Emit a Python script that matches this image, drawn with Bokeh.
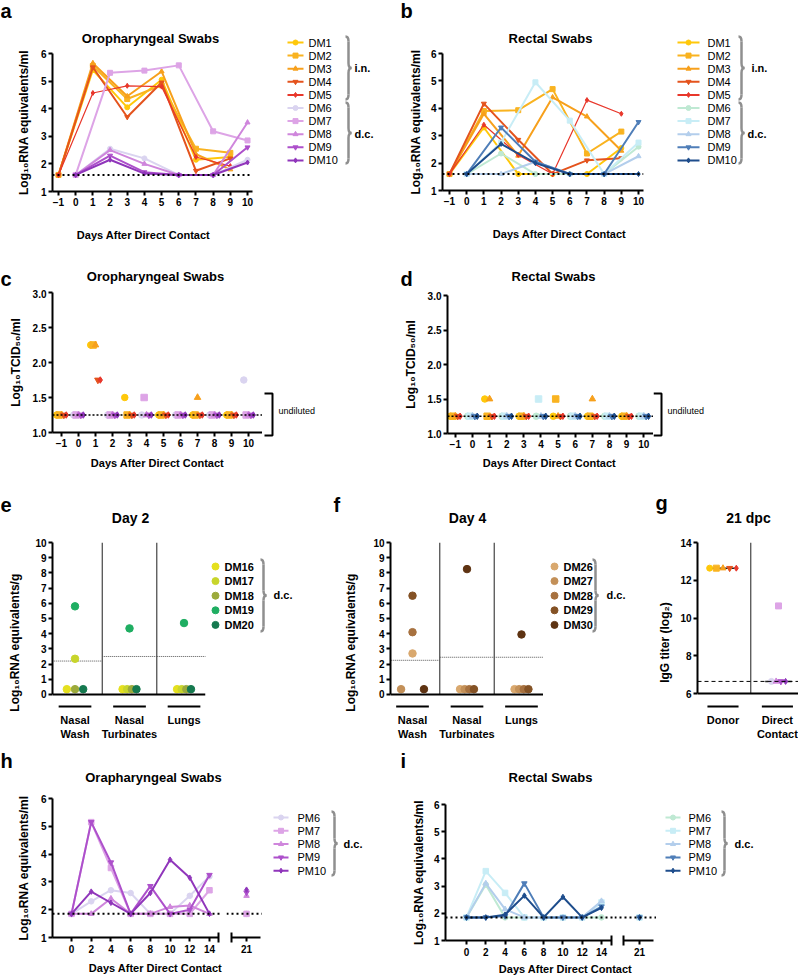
import numpy as np
from bokeh.plotting import figure
from bokeh.layouts import row, column
from bokeh.models import Range1d, FixedTicker, Span, NumeralTickFormatter
from bokeh.embed import file_html
from bokeh.resources import INLINE
from bokeh.core.properties import value

FONT = "Liberation Sans"

# ---------------- data ----------------
days_in = [-1, 1, 3, 5, 7, 9]
days_dc = [0, 2, 4, 6, 8, 10]
names_in = ["DM1", "DM2", "DM3", "DM4", "DM5"]
names_dc = ["DM6", "DM7", "DM8", "DM9", "DM10"]

# a: oropharyngeal RNA (log10)
oro_rna_in = [
    [1.6, 5.4, 4.05, 5.05, 2.15, 2.25],
    [1.6, 5.55, 4.35, 4.85, 2.55, 2.4],
    [1.6, 5.65, 4.45, 5.35, 2.35, 1.8],
    [1.6, 5.5, 3.7, 4.95, 1.75, 2.2],
    [1.6, 4.57, 4.83, 4.8, 2.25, 1.92],
]
oro_rna_dc = [
    [1.6, 2.55, 2.2, 1.6, 1.6, 2.15],
    [1.6, 5.3, 5.38, 5.57, 3.18, 2.85],
    [1.6, 2.5, 2.0, 1.6, 1.6, 3.5],
    [1.6, 2.3, 1.7, 1.6, 1.6, 2.6],
    [1.6, 2.15, 1.65, 1.6, 1.6, 2.05],
]
# b: rectal RNA
rec_rna_in = [
    [1.6, 3.3, 1.6, 1.6, 1.6, 2.55],
    [1.6, 3.9, 3.93, 4.7, 2.35, 3.15],
    [1.6, 3.8, 2.27, 4.4, 3.7, 2.45],
    [1.6, 4.17, 2.85, 1.6, 2.1, 2.18],
    [1.6, 3.4, 2.3, 1.6, 4.3, 3.8],
]
rec_rna_dc = [
    [1.6, 2.35, 1.6, 1.6, 1.6, 2.6],
    [1.6, 2.75, 4.95, 3.55, 1.6, 2.75],
    [1.6, 1.6, 2.05, 1.6, 1.6, 2.25],
    [1.6, 3.3, 2.05, 1.6, 1.6, 3.5],
    [1.6, 2.7, 2.0, 1.6, 1.6, 1.6],
]
rna_lod = 1.6

# c/d: infectious titer (log10 TCID50/ml)
oro_tcid_in = [
    [1.25, 2.25, 1.5, 1.25, 1.25, 1.25],
    [1.25, 2.25, 1.25, 1.25, 1.25, 1.25],
    [1.25, 2.25, 1.25, 1.25, 1.5, 1.25],
    [1.25, 1.75, 1.25, 1.25, 1.25, 1.25],
    [1.25, 1.75, 1.25, 1.25, 1.25, 1.25],
]
oro_tcid_dc = [
    [1.25, 1.25, 1.25, 1.25, 1.25, 1.75],
    [1.25, 1.25, 1.5, 1.25, 1.25, 1.25],
    [1.25, 1.25, 1.25, 1.25, 1.25, 1.25],
    [1.25, 1.25, 1.25, 1.25, 1.25, 1.25],
    [1.25, 1.25, 1.25, 1.25, 1.25, 1.25],
]
rec_tcid_in = [
    [1.25, 1.5, 1.25, 1.25, 1.25, 1.25],
    [1.25, 1.25, 1.25, 1.5, 1.25, 1.25],
    [1.25, 1.5, 1.25, 1.25, 1.5, 1.25],
    [1.25, 1.25, 1.25, 1.25, 1.25, 1.25],
    [1.25, 1.25, 1.25, 1.25, 1.25, 1.25],
]
rec_tcid_dc = [
    [1.25, 1.25, 1.25, 1.25, 1.25, 1.25],
    [1.25, 1.25, 1.5, 1.25, 1.25, 1.25],
    [1.25, 1.25, 1.25, 1.25, 1.25, 1.25],
    [1.25, 1.25, 1.25, 1.25, 1.25, 1.25],
    [1.25, 1.25, 1.25, 1.25, 1.25, 1.25],
]
tcid_lod = 1.25

# e/f: tissues
tissues = ["Nasal\nWash", "Nasal\nTurbinates", "Lungs"]
names_e = ["DM16", "DM17", "DM18", "DM19", "DM20"]
day2_tissue = [
    [0.35, 0.35, 0.35],
    [2.35, 0.35, 0.35],
    [0.35, 0.35, 0.35],
    [5.8, 4.35, 4.7],
    [0.35, 0.35, 0.35],
]
day2_lod = [2.2, 2.5, 2.5]
names_f = ["DM26", "DM27", "DM28", "DM29", "DM30"]
day4_tissue = [
    [2.7, 0.35, 0.35],
    [0.35, 0.35, 0.35],
    [4.1, 0.35, 0.35],
    [6.5, 0.35, 0.35],
    [0.35, 8.25, 3.95],
]
day4_lod = [2.25, 2.45, 2.45]

# g: IgG titers (log2) at 21 dpc
groups_g = ["Donor", "Direct\nContact"]
igg_donor = [12.64, 12.64, 12.64, 12.64, 12.64]
igg_contact = [6.64, 10.64, 6.64, 6.64, 6.64]
igg_lod = 6.64

# h/i: second experiment
days_pm = [0, 2, 4, 6, 8, 10, 12, 14, 21]
names_pm = ["PM6", "PM7", "PM8", "PM9", "PM10"]
pm_oro = [
    [1.85, 2.3, 2.7, 2.6, 1.85, 1.85, 2.5, 3.2, 1.85],
    [1.85, 5.15, 3.5, 1.85, 1.85, 1.85, 1.85, 2.7, 1.85],
    [1.85, 1.85, 2.4, 1.85, 1.85, 2.1, 2.15, 1.85, 2.5],
    [1.85, 5.15, 3.7, 1.85, 2.85, 1.85, 2.0, 3.25, 2.62],
    [1.85, 2.65, 2.25, 1.85, 2.6, 3.8, 3.15, 1.85, 2.72],
]
pm_rec = [
    [1.85, 3.05, 1.85, 1.85, 1.85, 1.85, 1.85, 1.85, 1.85],
    [1.85, 3.55, 2.75, 1.85, 1.85, 1.85, 1.85, 2.4, 1.85],
    [1.85, 3.1, 2.15, 1.85, 1.85, 1.85, 1.85, 2.45, 1.85],
    [1.85, 1.85, 1.9, 3.1, 1.85, 1.85, 1.85, 2.25, 1.85],
    [1.85, 1.85, 1.95, 2.65, 1.85, 2.6, 1.85, 2.2, 1.85],
]
pm_lod = 1.85

# ---------------- style ----------------
IN_COLS = ["#FFC80A", "#F9B320", "#F7A01C", "#E4531D", "#E8372B"]
PURPLES = ["#DAD4F0", "#DDA4E6", "#CF86DC", "#AD50CB", "#9036BB"]
BLUES = ["#BFE9D3", "#C8EDF6", "#B3CEEC", "#4F7EB8", "#1E4D8C"]
MARKERS = ["circle", "square", "triangle", "inverted_triangle", "diamond"]
E_COLS = ["#E5E01E", "#C8D52B", "#9CAA3B", "#1FAE62", "#15794F"]
F_COLS = ["#D9A86E", "#C39058", "#A7713F", "#845225", "#5E3312"]


def style_axis(ax, size="10px"):
    ax.axis_line_width = 2
    ax.axis_line_color = "black"
    ax.major_tick_line_width = 2
    ax.major_tick_line_color = "black"
    ax.major_tick_out = 4
    ax.major_tick_in = 0
    ax.minor_tick_line_color = None
    ax.major_label_text_font = FONT
    ax.major_label_text_font_size = size
    ax.major_label_text_font_style = "bold"
    ax.major_label_text_color = "black"
    ax.major_label_standoff = 2
    ax.axis_label_text_font = FONT
    ax.axis_label_text_font_size = "12px"
    ax.axis_label_text_font_style = "bold"
    ax.axis_label_text_color = "black"


def panel(x0, x1, y0, y1, fl, fr, ft, fb, xr, yr, yaxis=True):
    p = figure(width=x1 - x0, height=y1 - y0,
               x_range=Range1d(*xr), y_range=Range1d(*yr),
               toolbar_location=None, output_backend="svg", frame_align=False,
               min_border_left=fl - x0, min_border_right=x1 - fr,
               min_border_top=ft - y0, min_border_bottom=y1 - fb,
               y_axis_location="left" if yaxis else None)
    p.outline_line_color = None
    p.grid.visible = False
    for ax in p.axis:
        style_axis(ax)
    return p


def blank(x0, x1, y0, y1):
    p = figure(width=x1 - x0, height=y1 - y0, x_range=Range1d(x0, x1), y_range=Range1d(y1, y0),
               toolbar_location=None, output_backend="svg", min_border=0, frame_align=False,
               x_axis_location=None, y_axis_location=None)
    p.outline_line_color = None
    p.grid.visible = False
    return p


def txt(p, x, y, t, size="11px", bold=True, align="center", baseline="middle"):
    p.text([x], [y], text=[t], text_font=value(FONT), text_font_size=size,
           text_font_style="bold" if bold else "normal", text_align=align,
           text_baseline=baseline, text_color="black")


def strip(x0, x1, y0, y1, items):
    p = blank(x0, x1, y0, y1)
    for it in items:
        txt(p, *it)
    return p


def letter(x, y, t):
    return (x, y, t, "20px", True, "left", "middle")


def brace(p, x, y0, y1, w=6, color="#8f8f8f"):
    ym = (y0 + y1) / 2.0
    r = 5
    xm = x + w / 2.0
    p.quadratic(x0=[x, xm, x + w, xm], y0=[y0, ym - r, ym, y1 - r],
                x1=[xm, x + w, xm, x], y1=[y0 + r, ym, ym + r, y1],
                cx=[xm, xm, xm, xm], cy=[y0, ym, ym, y1],
                line_color=color, line_width=2.5)
    p.segment(x0=[xm, xm], y0=[y0 + r, ym + r], x1=[xm, xm], y1=[ym - r, y1 - r],
              line_color=color, line_width=2.5)


def line_legend(p, names, cols, lx0, lx1, tx, y0, dy, msize=5, lw=2, size="11px"):
    for k, (n, c) in enumerate(zip(names, cols)):
        y = y0 + k * dy
        p.segment(x0=[lx0], y0=[y], x1=[lx1], y1=[y], line_color=c, line_width=lw)
        p.scatter([(lx0 + lx1) / 2.0], [y], marker=MARKERS[k % 5], size=msize,
                  fill_color=c, line_color=c)
        txt(p, tx, y, n, size=size, bold=False, align="left")


def dot_legend(p, names, cols, dx, tx, y0, dy):
    for k, (n, c) in enumerate(zip(names, cols)):
        y = y0 + k * dy
        p.scatter([dx], [y], marker="circle", size=7, fill_color=c, line_color=c)
        txt(p, tx, y, n, size="11px", bold=True, align="left")


def rna_panel(p, data_in, data_dc, dc_cols, standoff):
    p.xaxis.ticker = FixedTicker(ticks=list(range(-1, 11)))
    p.yaxis.ticker = FixedTicker(ticks=[1, 2, 3, 4, 5, 6])
    p.yaxis.axis_label = "Log₁₀RNA equivalents/ml"
    p.yaxis.axis_label_standoff = standoff
    for k, vals in enumerate(data_in):
        p.line(days_in, vals, line_color=IN_COLS[k], line_width=1.2 if k == 4 else 2)
        p.scatter(days_in, vals, marker=MARKERS[k], size=5, fill_color=IN_COLS[k],
                  line_color=IN_COLS[k])
    for k, vals in enumerate(data_dc):
        p.line(days_dc, vals, line_color=dc_cols[k], line_width=2)
        p.scatter(days_dc, vals, marker=MARKERS[k], size=5, fill_color=dc_cols[k],
                  line_color=dc_cols[k])
    p.add_layout(Span(location=rna_lod, dimension="width", line_color="black",
                      line_dash="2 3", line_width=2))


def tcid_panel(p, data_in, data_dc, dc_cols, standoff):
    p.xaxis.ticker = FixedTicker(ticks=list(range(-1, 11)))
    p.yaxis.ticker = FixedTicker(ticks=[1.0, 1.5, 2.0, 2.5, 3.0])
    p.yaxis.formatter = NumeralTickFormatter(format="0.0")
    p.yaxis.axis_label = "Log₁₀TCID₅₀/ml"
    p.yaxis.axis_label_standoff = standoff
    p.add_layout(Span(location=tcid_lod, dimension="width", line_color="black",
                      line_dash="2 2", line_width=1.5))
    for grp, days, cols in [(data_in, days_in, IN_COLS), (data_dc, days_dc, dc_cols)]:
        for k, vals in enumerate(grp):
            xs = [d + (k - 2) * 0.14 for d in days]
            p.scatter(xs, vals, marker=MARKERS[k], size=6.5, fill_color=cols[k],
                      line_color=cols[k])


def undiluted(x0, x1, y0, y1, bx):
    p = blank(x0, x1, y0, y1)
    p.line([bx - 8, bx, bx, bx - 8], [393, 393, 435, 435], line_color="black", line_width=2)
    txt(p, bx + 6, 410, "undiluted", size="9px", bold=False, align="left")
    return p


STEP = {1: 0.0, 2: 0.42, 3: 0.15, 4: 0.085, 5: 0.12}


def spread(values):
    """values[animal][category] -> horizontal offsets for equal values in a category"""
    n_an = len(values)
    n_cat = len(values[0])
    offs = [[0.0] * n_cat for _ in range(n_an)]
    for c in range(n_cat):
        groups = {}
        for a in range(n_an):
            groups.setdefault(round(values[a][c], 2), []).append(a)
        for v, members in groups.items():
            n = len(members)
            for j, a in enumerate(members):
                offs[a][c] = (j - (n - 1) / 2.0) * STEP.get(n, 0.085)
    return offs


def hide_xaxis_ticks(p, loc):
    ax = p.xaxis[0]
    ax.fixed_location = loc
    ax.ticker = FixedTicker(ticks=[])
    ax.major_tick_out = 0
    ax.major_label_text_font_size = "0px"


def tissue_panel(p, data, lods, cols, standoff):
    p.yaxis.ticker = FixedTicker(ticks=list(range(0, 11)))
    p.yaxis.bounds = (0, 10)
    p.yaxis.axis_label = "Log₁₀RNA equivalents/g"
    p.yaxis.axis_label_standoff = standoff
    hide_xaxis_ticks(p, 0)
    n = len(tissues)
    cats = list(range(n))
    p.segment(x0=[c + 0.5 for c in cats[:-1]], y0=[0] * (n - 1),
              x1=[c + 0.5 for c in cats[:-1]], y1=[10] * (n - 1),
              line_color="#444444", line_width=1.2)
    p.segment(x0=[c - 0.5 for c in cats], y0=lods, x1=[c + 0.5 for c in cats], y1=lods,
              line_color="#555555", line_dash="1 1", line_width=1)
    offs = spread(data)
    for k, vals in enumerate(data):
        xs = [c + offs[k][c] for c in cats]
        p.scatter(xs, vals, marker="circle", size=7.5, fill_color=cols[k], line_color=cols[k])
    p.segment(x0=[c - 0.3 for c in cats], y0=[-0.79] * n, x1=[c + 0.3 for c in cats],
              y1=[-0.79] * n, line_color="black", line_width=2)
    p.text(cats, [-1.3] * n, text=tissues, text_font=value(FONT), text_font_size="11px",
           text_font_style="bold", text_align="center", text_baseline="top",
           text_line_height=1.15, text_color="black")


def pm_panels(p, q, data, cols, end_cap, start_cap, axis_end, standoff):
    p.yaxis.ticker = FixedTicker(ticks=[1, 2, 3, 4, 5, 6])
    p.yaxis.axis_label = "Log₁₀RNA equivalents/ml"
    p.yaxis.axis_label_standoff = standoff
    ax = p.xaxis[0]
    ax.ticker = FixedTicker(ticks=[d for d in days_pm if d <= 14], minor_ticks=[end_cap])
    ax.bounds = (p.x_range.start, end_cap)
    ax2 = q.xaxis[0]
    ax2.ticker = FixedTicker(ticks=[d for d in days_pm if d > 14], minor_ticks=[start_cap])
    ax2.bounds = (start_cap, axis_end)
    for a in (ax, ax2):
        a.minor_tick_line_color = "black"
        a.minor_tick_line_width = 2
        a.minor_tick_in = 5
        a.minor_tick_out = 5
    for fig in (p, q):
        fig.add_layout(Span(location=pm_lod, dimension="width", line_color="black",
                            line_dash="2 3", line_width=2))
    for k, vals in enumerate(data):
        main_d = [d for d in days_pm if d <= 14]
        main_v = [v for d, v in zip(days_pm, vals) if d <= 14]
        late_d = [d for d in days_pm if d > 14]
        late_v = [v for d, v in zip(days_pm, vals) if d > 14]
        p.line(main_d, main_v, line_color=cols[k], line_width=2)
        p.scatter(main_d, main_v, marker=MARKERS[k], size=5.5, fill_color=cols[k],
                  line_color=cols[k])
        q.scatter(late_d, late_v, marker=MARKERS[k], size=5.5, fill_color=cols[k],
                  line_color=cols[k])


XLAB = "Days After Direct Contact"

# ---------------- row 1: a, b ----------------
A = panel(0, 262, 46, 213, 52, 252, 53, 191, (-1.349, 10.29), (1, 6))
rna_panel(A, oro_rna_in, oro_rna_dc, PURPLES, 7)
colA = column(
    strip(0, 262, 0, 46, [letter(0, 10, "a"), (150, 38, "Oropharyngeal Swabs", "13px")]),
    A,
    strip(0, 262, 213, 248, [(143, 234, XLAB)]))

legA = blank(262, 400, 0, 248)
line_legend(legA, names_in + names_dc, IN_COLS + PURPLES, 287, 303, 308, 42, 13.1)
brace(legA, 345, 36, 99)
brace(legA, 345, 102, 163)
txt(legA, 354, 67, "i.n.", align="left")
txt(legA, 354, 133, "d.c.", align="left")

B = panel(400, 662, 46, 213, 442, 643, 53, 190, (-1.407, 10.29), (1, 6))
rna_panel(B, rec_rna_in, rec_rna_dc, BLUES, 5)
colB = column(
    strip(400, 662, 0, 46, [letter(400, 10, "b"), (550, 38, "Rectal Swabs", "13px")]),
    B,
    strip(400, 662, 213, 248, [(559, 233, XLAB)]))

legB = blank(662, 798, 0, 248)
line_legend(legB, names_in + names_dc, IN_COLS + BLUES, 677, 699, 707, 42, 13.1)
brace(legB, 738, 36, 99)
brace(legB, 738, 102, 163)
txt(legB, 751, 67, "i.n.", align="left")
txt(legB, 747, 133, "d.c.", align="left")

# ---------------- row 2: c, d ----------------
C = panel(0, 262, 289, 452, 52, 262, 292, 432, (-1.529, 10.82), (1.0, 3.0))
tcid_panel(C, oro_tcid_in, oro_tcid_dc, PURPLES, 7)
colC = column(
    strip(0, 262, 248, 289, [letter(0, 278, "c"), (155, 276, "Oropharyngeal Swabs", "13px")]),
    C,
    strip(0, 262, 452, 475, [(157, 462, XLAB)]))
sideC = undiluted(262, 400, 248, 475, 272)

D = panel(400, 653, 289, 452, 442, 653, 295, 433, (-1.456, 10.57), (1.0, 3.0))
tcid_panel(D, rec_tcid_in, rec_tcid_dc, BLUES, 7)
colD = column(
    strip(400, 653, 248, 289, [letter(400, 278, "d"), (553, 276, "Rectal Swabs", "13px")]),
    D,
    strip(400, 653, 452, 475, [(549, 462, XLAB)]))
sideD = undiluted(653, 798, 248, 475, 661)

# ---------------- row 3: e, f, g ----------------
E = panel(0, 208, 535, 745, 52, 205, 542, 742, (-0.413, 2.394), (-3.158, 10))
tissue_panel(E, day2_tissue, day2_lod, E_COLS, 10)
colE = column(
    strip(0, 208, 475, 535, [letter(0, 504, "e"), (130, 517, "Day 2", "14px")]),
    E)
legE = blank(208, 330, 475, 745)
dot_legend(legE, names_e, E_COLS, 215, 224, 566, 14.6)
brace(legE, 260, 559, 631)
txt(legE, 273, 594, "d.c.", align="left")

F = panel(330, 543, 535, 745, 390, 543, 542, 742, (-0.404, 2.404), (-3.158, 10))
tissue_panel(F, day4_tissue, day4_lod, F_COLS, 12)
colF = column(
    strip(330, 543, 475, 535, [letter(333, 504, "f"), (467, 517, "Day 4", "14px")]),
    F)
legF = blank(543, 655, 475, 745)
dot_legend(legF, names_f, F_COLS, 554, 563, 566, 14.6)
brace(legF, 592, 559, 631)
txt(legF, 606, 594, "d.c.", align="left")

G = panel(655, 798, 535, 745, 697, 798, 542, 742, (-0.459, 1.36), (3.404, 14))
G.yaxis.ticker = FixedTicker(ticks=[6, 8, 10, 12, 14])
G.yaxis.bounds = (6, 14)
G.yaxis.axis_label = "IgG titer (log₂)"
G.yaxis.axis_label_standoff = 5
hide_xaxis_ticks(G, 6)
G.segment(x0=[0.5], y0=[6], x1=[0.5], y1=[14], line_color="#444444", line_width=1.2)
G.add_layout(Span(location=igg_lod, dimension="width", line_color="black",
                  line_dash="4 3", line_width=1))
for gi, (vals, cols) in enumerate([(igg_donor, IN_COLS), (igg_contact, PURPLES)]):
    med = float(np.median(vals))
    G.segment(x0=[gi - 0.24], y0=[med], x1=[gi + 0.24], y1=[med], line_color="#222222",
              line_width=1.5)
    offs = spread([[v] for v in vals])
    for k, v in enumerate(vals):
        G.scatter([gi + offs[k][0]], [v], marker=MARKERS[k], size=6,
                  fill_color=cols[k], line_color=cols[k])
G.segment(x0=[-0.28, 0.7], y0=[5.31, 5.31], x1=[0.28, 1.26], y1=[5.31, 5.31],
          line_color="black", line_width=2)
G.text([0, 0.98], [4.89, 4.89], text=groups_g, text_font=value(FONT), text_font_size="11px",
       text_font_style="bold", text_align="center", text_baseline="top",
       text_line_height=1.15, text_color="black")
colG = column(
    strip(655, 798, 475, 535, [letter(655, 502, "g"), (748, 517, "21 dpc", "14px")]),
    G)

# ---------------- row 4: h, i ----------------
H = panel(0, 226, 791, 955, 52, 221, 798, 937, (-1.928, 15.22), (1, 6))
H21 = panel(226, 262, 791, 955, 226, 262, 798, 937, (18.97, 22.62), (1, 6), yaxis=False)
pm_panels(H, H21, pm_oro, PURPLES, 14.92, 19.5, 22.4, 7)
colH = column(
    strip(0, 262, 745, 791, [letter(0, 760, "h"), (153, 777, "Orapharyngeal Swabs", "13px")]),
    row(H, H21),
    strip(0, 262, 955, 977, [(155, 967, XLAB)]))
legH = blank(262, 400, 745, 977)
line_legend(legH, names_pm, PURPLES, 273, 288, 297, 817, 13.3)
brace(legH, 331, 811, 875)
txt(legH, 343, 843, "d.c.", align="left")

I = panel(400, 614, 791, 958, 445, 614, 804, 941, (-2.178, 15.35), (1, 6))
I21 = panel(614, 656, 791, 958, 614, 656, 804, 941, (18.41, 22.76), (1, 6), yaxis=False)
pm_panels(I, I21, pm_rec, BLUES, 15.04, 19.34, 22.45, 5)
colI = column(
    strip(400, 656, 745, 791, [letter(400, 760, "i"), (550, 777, "Rectal Swabs", "13px")]),
    row(I, I21),
    strip(400, 656, 958, 977, [(565, 968, XLAB)]))
legI = blank(656, 798, 745, 977)
line_legend(legI, names_pm, BLUES, 665, 680, 688, 817, 13.3)
brace(legI, 721, 811, 875)
txt(legI, 734, 843, "d.c.", align="left")

layout = column(
    row(colA, legA, colB, legB),
    row(colC, sideC, colD, sideD),
    row(colE, legE, colF, legF, colG),
    row(colH, legH, colI, legI),
)

with open("out.html", "w") as fh:
    fh.write(file_html(layout, INLINE))
